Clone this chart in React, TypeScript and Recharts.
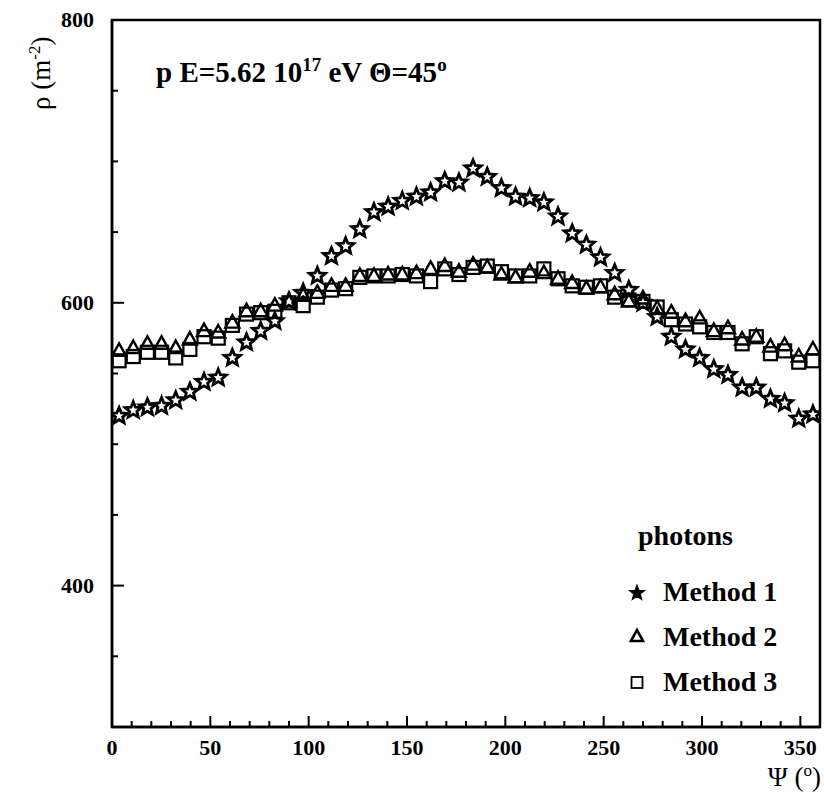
import React from "react";
import { ScatterChart, Scatter, XAxis, YAxis, ReferenceArea } from "recharts";

const psi = [
  3.6, 10.8, 18, 25.2, 32.4, 39.6, 46.8, 54, 61.2, 68.4, 75.6, 82.8, 90, 97.2, 104.4, 111.6, 118.8,
  126, 133.2, 140.4, 147.6, 154.8, 162, 169.2, 176.4, 183.6, 190.8, 198, 205.2, 212.4, 219.6, 226.8,
  234, 241.2, 248.4, 255.6, 262.8, 270, 277.2, 284.4, 291.6, 298.8, 306, 313.2, 320.4, 327.6, 334.8,
  342, 349.2, 356.4,
];

const method1 = [
  520, 524, 526, 527, 531, 537, 544, 547, 561, 572, 580, 587, 601, 607, 619, 633, 640, 652, 664, 668,
  672, 675, 678, 686, 685, 695, 689, 681, 675, 674, 671, 661, 649, 641, 632, 621, 609, 600, 590, 576,
  567, 561, 553, 549, 540, 540, 532, 529, 518, 521,
];

const method2 = [
  566, 568, 571, 571, 568, 574, 580, 579, 586, 594, 594, 598, 601, 605, 607, 612, 612, 619, 619, 620,
  620, 621, 624, 626, 622, 627, 625, 620, 618, 622, 621, 617, 614, 610, 611, 606, 601, 603, 596, 593,
  587, 589, 580, 582, 574, 576, 569, 570, 562, 567,
];

const method3 = [
  559, 562, 565, 565, 561, 567, 576, 575, 584, 592, 593, 594, 600, 598, 604, 609, 610, 618, 619, 619,
  620, 619, 615, 624, 620, 625, 626, 622, 619, 619, 624, 617, 612, 611, 612, 604, 602, 601, 597, 588,
  585, 583, 579, 579, 571, 576, 564, 566, 558, 559,
];

const xTicks = [
  0, 10, 20, 30, 40, 50, 60, 70, 80, 90, 100, 110, 120, 130, 140, 150, 160, 170, 180, 190, 200, 210,
  220, 230, 240, 250, 260, 270, 280, 290, 300, 310, 320, 330, 340, 350, 360,
];
const xLabels = [0, 50, 100, 150, 200, 250, 300, 350];
const yTicks = [300, 350, 400, 450, 500, 550, 600, 650, 700, 750, 800];
const yLabels = [400, 600, 800];

const serif = { fontFamily: "Liberation Serif, Times New Roman, DejaVu Serif, serif" };

const toPoints = (ys: number[]) => psi.map((x, i) => ({ x, y: ys[i] }));

function starPath(cx: number, cy: number, R: number, r: number) {
  let d = "";
  for (let i = 0; i < 10; i++) {
    const rad = i % 2 === 0 ? R : r;
    const a = -Math.PI / 2 + (i * Math.PI) / 5;
    d += (i === 0 ? "M" : "L") + (cx + rad * Math.cos(a)).toFixed(2) + "," + (cy + rad * Math.sin(a)).toFixed(2);
  }
  return d + "Z";
}

const StarShape = (props: any) => (
  <path d={starPath(props.cx, props.cy, 8.5, 3.8)} fill="none" stroke="#000" strokeWidth={2.8} />
);
const TriShape = (props: any) => {
  const { cx, cy } = props;
  return (
    <path
      d={`M${cx},${cy - 7.5}L${cx + 7},${cy + 5}L${cx - 7},${cy + 5}Z`}
      fill="none"
      stroke="#000"
      strokeWidth={2.4}
    />
  );
};
const SquareShape = (props: any) => {
  const { cx, cy } = props;
  return <rect x={cx - 6.5} y={cy - 6.5} width={13} height={13} fill="none" stroke="#000" strokeWidth={2.2} />;
};

const YTick = (props: any) => {
  const { x, y, payload } = props;
  const major = yLabels.includes(payload.value);
  return (
    <g>
      <line x1={x} x2={x + (major ? 12 : 6)} y1={y} y2={y} stroke="#000" strokeWidth={2} />
      {major && (
        <text x={x - 18} y={y + 7} textAnchor="end" style={serif} fontWeight="bold" fontSize={22} fill="#000">
          {payload.value}
        </text>
      )}
    </g>
  );
};

const XTick = (props: any) => {
  const { x, y, payload } = props;
  const major = xLabels.includes(payload.value);
  return (
    <g>
      <line x1={x} x2={x} y1={y} y2={y - (major ? 11 : 6)} stroke="#000" strokeWidth={2} />
      {major && (
        <text x={x} y={y + 28} textAnchor="middle" style={serif} fontWeight="bold" fontSize={22} fill="#000">
          {payload.value}
        </text>
      )}
    </g>
  );
};

export default function App() {
  return (
    <div style={{ position: "absolute", left: 0, top: 0, width: 824, height: 797, background: "#fff" }}>
      <ScatterChart width={824} height={797} margin={{ top: 20, right: 4, left: 0, bottom: 0 }}>
        <XAxis
          type="number"
          dataKey="x"
          domain={[0, 360]}
          ticks={xTicks}
          interval={0}
          tickSize={0}
          tickMargin={0}
          tick={<XTick />}
          height={70}
          axisLine={{ stroke: "#000", strokeWidth: 2.5 }}
          allowDataOverflow
        />
        <YAxis
          type="number"
          dataKey="y"
          domain={[300, 800]}
          ticks={yTicks}
          interval={0}
          tickSize={0}
          tickMargin={0}
          tick={<YTick />}
          width={112}
          axisLine={{ stroke: "#000", strokeWidth: 2.5 }}
          allowDataOverflow
        />
        <ReferenceArea x1={0} x2={360} y1={300} y2={800} fill="none" fillOpacity={0} stroke="#000" strokeWidth={2.5} />
        <Scatter data={toPoints(method3)} shape={<SquareShape />} isAnimationActive={false} />
        <Scatter data={toPoints(method2)} shape={<TriShape />} isAnimationActive={false} />
        <Scatter data={toPoints(method1)} shape={<StarShape />} isAnimationActive={false} />
      </ScatterChart>
      <svg
        width={824}
        height={797}
        style={{ position: "absolute", left: 0, top: 0, pointerEvents: "none", ...serif }}
      >
        <text x={156} y={82} fontWeight="bold" fontSize={29} fill="#000">
          p E=5.62 10
          <tspan dy={-11} fontSize={19}>17</tspan>
          <tspan dy={11}> eV Θ=45</tspan>
          <tspan dy={-11} fontSize={19}>o</tspan>
        </text>
        <text transform="translate(50,110) rotate(-90)" fontSize={27} fill="#000">
          ρ (m
          <tspan dy={-10} fontSize={17}>-2</tspan>
          <tspan dy={10}>)</tspan>
        </text>
        <text x={821} y={786} textAnchor="end" fontSize={27} fill="#000">
          Ψ (
          <tspan dy={-10} fontSize={17}>o</tspan>
          <tspan dy={10}>)</tspan>
        </text>
        <text x={638} y={545} fontWeight="bold" fontSize={28} fill="#000">photons</text>
        <path d={starPath(637, 593, 7.5, 3.2)} fill="#000" stroke="#000" strokeWidth={1.5} />
        <text x={663} y={601} fontWeight="bold" fontSize={28} fill="#000">Method 1</text>
        <path d="M637,630L643,641L631,641Z" fill="none" stroke="#000" strokeWidth={2.6} />
        <text x={663} y={646} fontWeight="bold" fontSize={28} fill="#000">Method 2</text>
        <rect x={631.5} y={677} width={11} height={11} fill="none" stroke="#000" strokeWidth={1.8} />
        <text x={663} y={691} fontWeight="bold" fontSize={28} fill="#000">Method 3</text>
      </svg>
    </div>
  );
}
